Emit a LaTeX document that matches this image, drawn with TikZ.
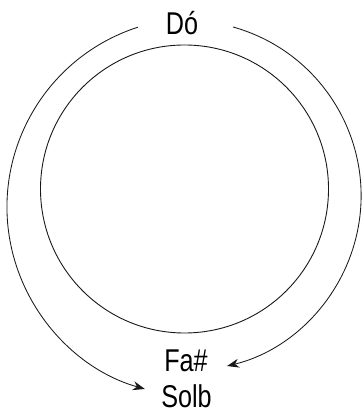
\documentclass[tikz,border=0pt]{standalone}
\usepackage{fontspec}
\setmainfont{Liberation Sans}[FakeStretch=0.8]
\usetikzlibrary{positioning, arrows.meta, calc}
\tikzset{
  notelabel/.style={
    font=\fontsize{31.5}{38}\selectfont,
    inner sep=0pt,
    anchor=base,
  },
  wheel/.style={circle, draw=black!90, line width=0.9pt, minimum size=288pt, inner sep=0pt},
  turnarr/.style={-{Stealth[length=12pt, width=9pt]}, line width=0.85pt, draw=black!90},
}

\begin{document}
\begin{tikzpicture}[x=1pt, y=1pt]
  \useasboundingbox (0,0) rectangle (362,414);

  \node[wheel] (wheel) at (184.5,225) {};
  \node[notelabel] (do) at (182,379) {Dó};
  \node[notelabel] (fa) at (186,42) {Fa\#};
  \node[notelabel] (solb) at (186.5,6) {Solb};

  % --- arcs ---
  \coordinate (leftStart) at (137.9,386.8);
  \coordinate (rightStart) at (233,387);
  \draw[turnarr] (leftStart) arc[start angle=107.9, end angle=254.3, radius=189pt];
  \draw[turnarr] (rightStart) arc[start angle=74.4, end angle=-76.4, radius=175.2pt];
\end{tikzpicture}
\end{document}
